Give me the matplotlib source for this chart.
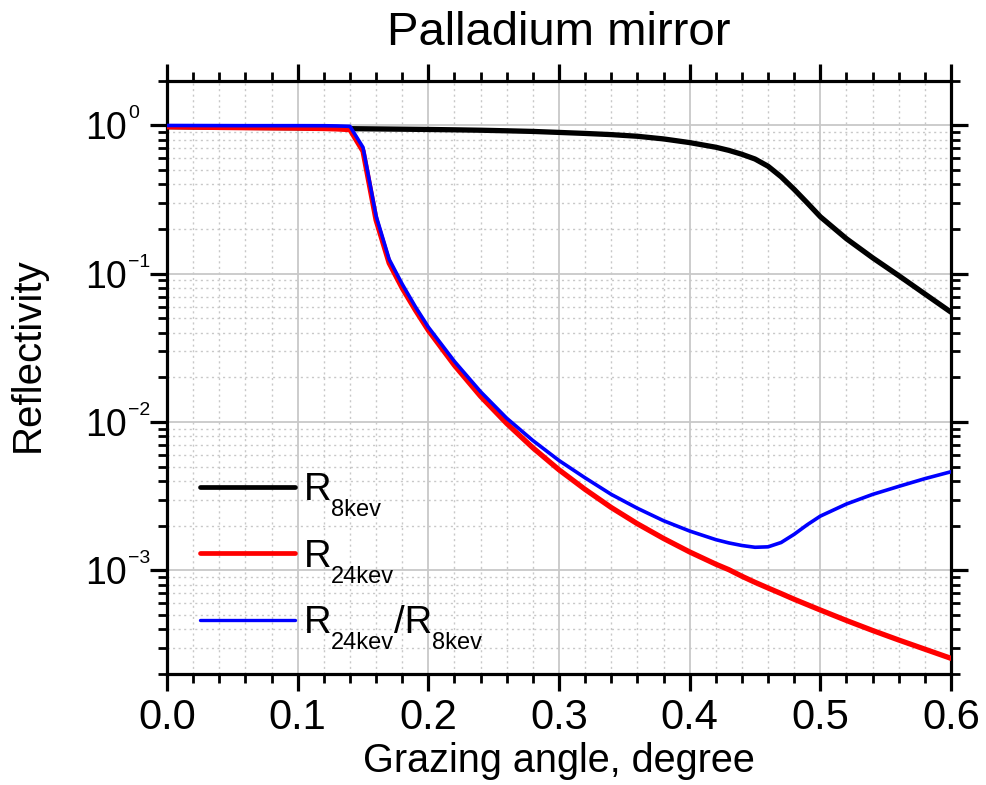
import matplotlib
matplotlib.use("Agg")
import matplotlib.pyplot as plt
import matplotlib.ticker as mticker
import matplotlib.transforms as mtransforms
from matplotlib.lines import Line2D

plt.rcParams['font.family'] = ['Liberation Sans', 'DejaVu Sans']

# ---------------- data ----------------
angle = [0.00, 0.02, 0.04, 0.06, 0.08, 0.10, 0.12, 0.13, 0.14, 0.15, 0.16, 0.17,
         0.18, 0.19, 0.20, 0.22, 0.24, 0.26, 0.28, 0.30, 0.32, 0.34, 0.36, 0.38,
         0.40, 0.42, 0.43, 0.44, 0.45, 0.46, 0.47, 0.48, 0.49, 0.50, 0.52, 0.54,
         0.56, 0.58, 0.60]

r_8kev = [0.980, 0.976, 0.972, 0.969, 0.966, 0.963, 0.958, 0.955, 0.950, 0.948, 0.946, 0.944,
          0.942, 0.940, 0.938, 0.933, 0.927, 0.919, 0.910, 0.896, 0.882, 0.866, 0.844, 0.810,
          0.765, 0.712, 0.678, 0.638, 0.593, 0.530, 0.450, 0.370, 0.300, 0.242, 0.172, 0.128,
          0.097, 0.073, 0.055]

r_24kev = [0.978, 0.973, 0.968, 0.964, 0.961, 0.958, 0.952, 0.946, 0.936, 0.670, 0.230, 0.118,
           0.080, 0.057, 0.0415, 0.0241, 0.0149, 0.00977, 0.0067, 0.00476, 0.00351, 0.00265, 0.00206, 0.00164,
           0.00133, 0.00110, 0.00101, 0.000912, 0.00083, 0.00076, 0.000697, 0.000638, 0.000587, 0.00054, 0.000459, 0.000393,
           0.000339, 0.000294, 0.000255]

ratio = [0.998, 0.997, 0.996, 0.995, 0.995, 0.995, 0.994, 0.991, 0.985, 0.710, 0.245, 0.125,
         0.085, 0.060, 0.0436, 0.0256, 0.0160, 0.0106, 0.0075, 0.0055, 0.0042, 0.00325, 0.00262, 0.00216,
         0.00184, 0.00161, 0.00153, 0.00147, 0.00143, 0.00144, 0.00154, 0.00175, 0.00203, 0.00232, 0.00280, 0.00325,
         0.00368, 0.00415, 0.00462]

xticks = [0.0, 0.1, 0.2, 0.3, 0.4, 0.5, 0.6]
xtick_labels = ['0.0', '0.1', '0.2', '0.3', '0.4', '0.5', '0.6']
yticks = [1e-3, 1e-2, 1e-1, 1e0]
ytick_base = ['10', '10', '10', '10']
ytick_exponents = ['\u22123', '\u22122', '\u22121', '0']

title = 'Palladium mirror'
xlabel = 'Grazing angle, degree'
ylabel = 'Reflectivity'

# ---------------- figure ----------------
fig = plt.figure(figsize=(9.86, 7.85), dpi=100)
ax = fig.add_axes([0.1694, 0.1414, 0.7951, 0.7558])

l1, = ax.plot(angle, r_8kev, color='#000000', lw=3.8, solid_capstyle='round', zorder=3)
l2, = ax.plot(angle, r_24kev, color='#ff0000', lw=3.8, solid_capstyle='round', zorder=4)
l3, = ax.plot(angle, ratio, color='#0000ff', lw=2.6, solid_capstyle='round', zorder=5)

ax.set_yscale('log')
ax.set_xlim(0, 0.6)
ax.set_ylim(2e-4, 2)

ax.set_xticks(xticks, labels=xtick_labels)
ax.xaxis.set_minor_locator(mticker.MultipleLocator(0.02))
ax.set_yticks(yticks, labels=ytick_base)
ax.yaxis.set_minor_locator(mticker.LogLocator(base=10, subs=range(2, 10), numticks=20))
ax.yaxis.set_minor_formatter(mticker.NullFormatter())

ax.grid(which='major', color='#c8c8c8', lw=1.3, ls='-')
ax.grid(which='minor', color='#c8c8c8', lw=1.0, ls=(0, (1.5, 2.5)))
ax.set_axisbelow(True)

for sp in ax.spines.values():
    sp.set_linewidth(2.3)

ax.tick_params(which='major', direction='out', length=12, width=2.3,
               top=True, right=True, labeltop=False, labelright=False)
ax.tick_params(which='minor', direction='out', length=6.5, width=2.0,
               top=True, right=True)
ax.tick_params(axis='x', which='major', labelsize=30, pad=5)
ax.tick_params(axis='y', which='major', labelsize=27, pad=17)

# superscript exponents for y tick labels
sup_tr = mtransforms.offset_copy(ax.get_yaxis_transform(), fig=fig, x=0, y=7, units='dots')
for yv, ex in zip(yticks, ytick_exponents):
    ax.text(-0.0497, yv, ex, transform=sup_tr, fontsize=14, ha='left', va='baseline')

ax.set_title(title, fontsize=34, pad=26)
ax.set_xlabel(xlabel, fontsize=28.5, labelpad=3)
ax.set_ylabel(ylabel, fontsize=29)
ax.yaxis.set_label_coords(-0.153, 0.539)

# ---------------- legend ----------------
handles = [Line2D([], [], color='#000000', lw=3.4, solid_capstyle='round'),
           Line2D([], [], color='#ff0000', lw=3.4, solid_capstyle='round'),
           Line2D([], [], color='#0000ff', lw=2.4, solid_capstyle='round')]
leg = ax.legend(handles, ['R', 'R', 'R'], loc='upper left', bbox_to_anchor=(0.042, 0.34),
                frameon=False, fontsize=27.5, handlelength=2.49, handletextpad=0.24,
                labelspacing=0.8, borderpad=0, borderaxespad=0)

fig.canvas.draw()
renderer = fig.canvas.get_renderer()
inv = fig.transFigure.inverted()
SUB_FS = 17
DROP = 16


def put(xd, yd, s, fs):
    xf, yf = inv.transform((xd, yd))
    t = fig.text(xf, yf, s, fontsize=fs, ha='left', va='baseline')
    return t.get_window_extent(renderer)


subs = [[('8kev', True)], [('24kev', True)], [('24kev', True), ('/R', False), ('8kev', True)]]
for t, parts in zip(leg.get_texts(), subs):
    bb = t.get_window_extent(renderer)
    descent = t._get_layout(renderer)[2]
    base = bb.y0 + descent
    x = bb.x1 - 1
    for s, is_sub in parts:
        if is_sub:
            eb = put(x, base - DROP, s, SUB_FS)
        else:
            eb = put(x, base, s, 27.5)
        x = eb.x1

fig.savefig('out.png', dpi=100)
